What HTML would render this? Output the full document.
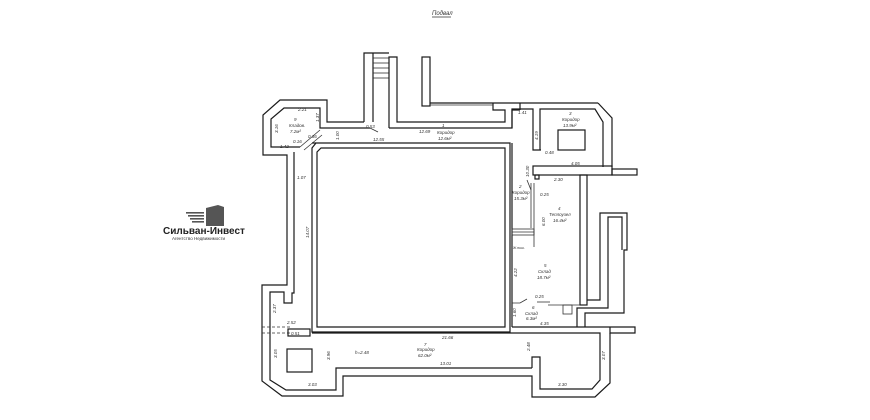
<!DOCTYPE html>
<html><head><meta charset="utf-8"><style>
html,body{margin:0;padding:0;background:#fff;}
svg{display:block;}
text{font-family:"Liberation Sans",sans-serif;font-style:italic;fill:#333;font-size:4.5px;}
.l{fill:none;stroke:#1a1a1a;stroke-width:1.2;}
.t{fill:none;stroke:#333;stroke-width:0.8;}
</style></head><body>
<svg width="870" height="420" viewBox="0 0 870 420" xmlns="http://www.w3.org/2000/svg">
<rect width="870" height="420" fill="#fff"/>
<text x="432" y="15" style="font-size:6px">Подвал</text>
<line x1="432" y1="17" x2="451" y2="17" class="t"/>

<!-- stairs -->
<polyline class="l" points="364,122 364,53 389,53"/>
<polyline class="l" points="373,122 373,53"/>
<line class="t" x1="373" y1="58" x2="389" y2="58"/><line class="t" x1="373" y1="63" x2="389" y2="63"/>
<line class="t" x1="373" y1="68" x2="389" y2="68"/><line class="t" x1="373" y1="73" x2="389" y2="73"/>
<line class="t" x1="373" y1="78" x2="389" y2="78"/>
<polyline class="l" points="389,128 389,57 397,57 397,122 505,122 505,110 493,110 493,103"/>
<rect class="l" x="422" y="57" width="8" height="49"/>
<line class="l" x1="430" y1="103" x2="598" y2="103"/>
<line class="t" x1="430" y1="105" x2="493" y2="105"/>
<polyline class="l" points="598,103 612,118 612,167"/>
<polyline class="l" points="389,128 512,128 512,110 520,110"/>
<line class="l" x1="520" y1="110" x2="520" y2="103"/>

<!-- left room 9 -->
<polyline class="l" points="364,122 327,122 327,100 280,100 263,115 263,155 287,155 287,285 262,285 262,381 282,396 343,396 343,376 532,376 532,397 595,397 610,383 610,333"/>
<polyline class="l" points="370,128 320,128 320,108 284,108 271,119 271,147 300,147"/>
<line class="t" x1="300" y1="147" x2="320" y2="130"/><line class="t" x1="304" y1="150" x2="322" y2="135"/>
<line class="t" x1="370" y1="128" x2="378" y2="132"/>
<polyline class="l" points="294,152 294,293 292,293 292,303 284,303 284,292 270,292 270,380 286,390 336,390 336,368 532,368"/>
<line class="t" x1="262" y1="327" x2="290" y2="327" stroke-dasharray="3,2"/>
<line class="t" x1="262" y1="333" x2="290" y2="333" stroke-dasharray="3,2"/>
<rect class="l" x="288" y="329" width="22" height="7"/>

<!-- central block -->
<path class="l" d="M316,143 L510,143 L510,332 L312,332 L312,148 Z"/>
<path class="l" d="M321,148 L505,148 L505,327 L317,327 L317,152 Z"/>
<line class="l" x1="312" y1="143" x2="316" y2="143"/>

<polyline class="l" points="512,327 610,327 610,333 635,333 635,327 610,327"/>
<polyline class="l" points="312,333 600,333 600,380 592,389 540,389 540,357 532,357 532,368"/>
<rect class="l" x="287" y="349" width="25" height="23"/>

<!-- right area -->
<polyline class="l" points="512,128 512,109 533,109 533,150 541,150"/>
<polyline class="l" points="540,150 540,109 595,109 603,122 603,167"/>
<rect class="l" x="558" y="130" width="27" height="20"/>
<rect class="l" x="533" y="166" width="79" height="9"/>
<rect class="l" x="612" y="169" width="25" height="6"/>
<rect class="l" x="535" y="175" width="4" height="4"/>
<rect class="l" x="580" y="175" width="7" height="130"/>
<polyline class="l" points="587,300 600,300 600,213 627,213 627,250 624,250 624,313 585,313 585,327"/>
<polyline class="l" points="622,250 622,217 608,217 608,308 577,308 577,327"/>
<line class="l" x1="512" y1="143" x2="512" y2="327"/>
<line class="t" x1="534" y1="183" x2="534" y2="247"/>
<line class="t" x1="531" y1="183" x2="531" y2="228"/>
<rect class="t" x="512" y="229" width="22" height="6"/>
<line class="t" x1="512" y1="232" x2="534" y2="232"/>
<line class="t" x1="527" y1="180" x2="531" y2="190"/>
<polyline class="t" points="512,303 520,303 527,299"/>
<polyline class="t" points="537,302 550,302"/>
<polyline class="t" points="548,305 580,305"/>
<rect class="t" x="563" y="305" width="9" height="9"/>

<!-- labels -->
<text x="298" y="111">2.21</text>
<text x="294" y="121">9</text>
<text x="289" y="127">Кладов.</text>
<text x="290" y="133">7.2м²</text>
<text x="280" y="148">1.42</text>
<text x="293" y="143">0.16</text>
<text x="308" y="138">0.36</text>
<text x="297" y="179">1.07</text>
<text x="366" y="128">0.53</text>
<text x="373" y="141">12.55</text>
<text x="419" y="133">12.69</text>
<text x="442" y="127">1</text>
<text x="437" y="134">Коридор</text>
<text x="438" y="140">12.6м²</text>
<text x="518" y="114">1.41</text>
<text x="569" y="115">3</text>
<text x="562" y="121">Коридор</text>
<text x="563" y="127">13.9м²</text>
<text x="545" y="154">0.48</text>
<text x="571" y="165">4.05</text>
<text x="554" y="181">2.30</text>
<text x="519" y="188">2</text>
<text x="512" y="194">Коридор</text>
<text x="514" y="200">15.3м²</text>
<text x="540" y="196">0.25</text>
<text x="558" y="210">4</text>
<text x="549" y="216">Теплоузел</text>
<text x="553" y="222">16.4м²</text>
<text x="513" y="249" style="font-size:3.5px">Ж.ниш.</text>
<text x="544" y="267">5</text>
<text x="538" y="273">Склад</text>
<text x="537" y="279">18.7м²</text>
<text x="535" y="298">0.25</text>
<text x="532" y="309">6</text>
<text x="525" y="315">Склад</text>
<text x="526" y="320">6.3м²</text>
<text x="540" y="325">4.35</text>
<text x="287" y="324">2.52</text>
<text x="291" y="335">0.51</text>
<text x="442" y="339">21.66</text>
<text x="424" y="346">7</text>
<text x="417" y="351">Коридор</text>
<text x="418" y="357">62.0м²</text>
<text x="355" y="354">h=2.48</text>
<text x="440" y="365">13.01</text>
<text x="308" y="386">3.03</text>
<text x="558" y="386">3.30</text>
<g transform="rotate(-90)">
<text x="-122" y="319">1.37</text>
<text x="-133" y="278">3.16</text>
<text x="-140" y="339">1.00</text>
<text x="-238" y="309">14.07</text>
<text x="-140" y="538">4.19</text>
<text x="-177" y="529">10.30</text>
<text x="-226" y="545">6.00</text>
<text x="-277" y="517">4.22</text>
<text x="-317" y="516">1.60</text>
<text x="-313" y="276">2.37</text>
<text x="-358" y="277">3.05</text>
<text x="-360" y="330">3.96</text>
<text x="-351" y="530">2.48</text>
<text x="-360" y="605">3.07</text>
</g>

<!-- logo -->
<g fill="#555">
<polygon points="206,208 218,205 224,207 224,226 206,226"/>
<rect x="186" y="212" width="18" height="1.6"/>
<rect x="188" y="215" width="16" height="1.6"/>
<rect x="190" y="218" width="14" height="1.6"/>
<rect x="192" y="221" width="12" height="1.6"/>
</g>
<text x="163" y="234" style="font-size:10px;font-weight:bold;font-style:normal;fill:#222">Сильван-Инвест</text>
<text x="172" y="240" style="font-size:4.5px;font-style:normal;fill:#333">Агентство Недвижимости</text>
</svg>
</body></html>
